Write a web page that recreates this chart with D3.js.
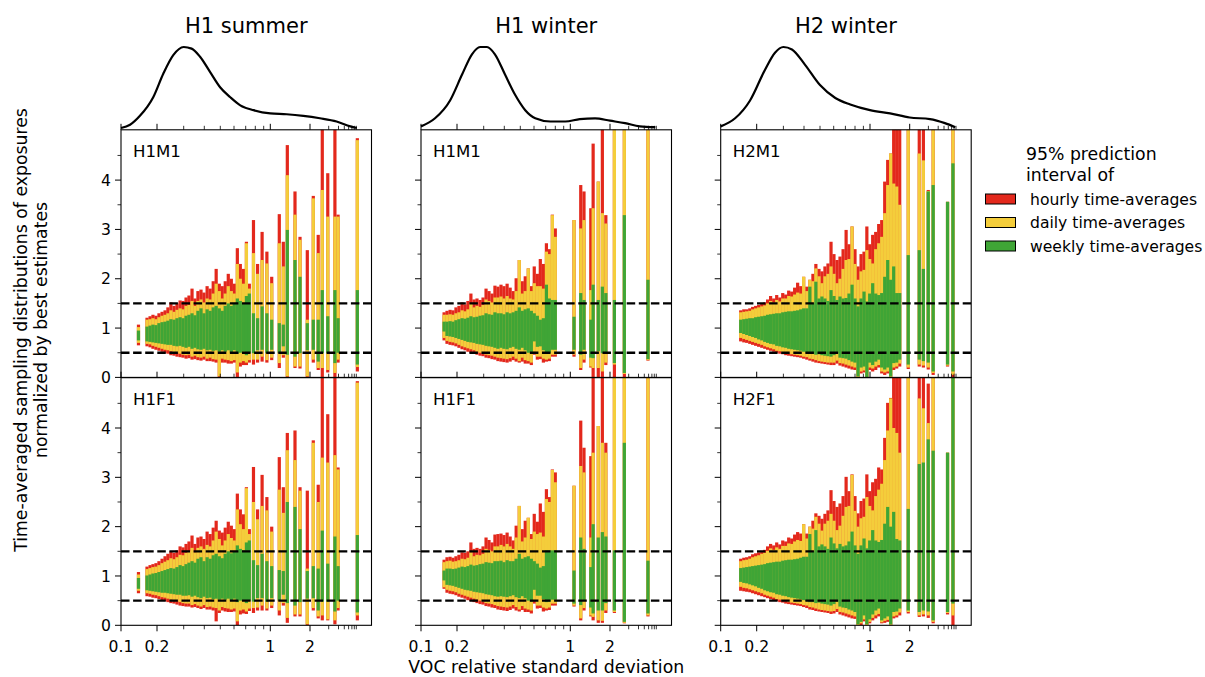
<!DOCTYPE html>
<html>
<head>
<meta charset="utf-8">
<script src="https://cdn.jsdelivr.net/npm/d3@7"></script>
<style>
  body { margin: 0; background: #fff; }
  svg { display: block; }
  text { font-family: "DejaVu Sans", sans-serif; fill: #000; }
</style>
</head>
<body>
<svg id="chart" width="1205" height="677"></svg>
<script>
// ---------------------------------------------------------------
// Data: VOC relative standard deviations (one entry per compound)
// and the 95% prediction intervals of the normalized time-averaged
// exposures. Each interval row is
//   [hourly hi, daily hi, weekly hi, weekly lo, daily lo, hourly lo]
// ---------------------------------------------------------------
const seasons = ["H1 summer", "H1 winter", "H2 winter"];
const panelLabels = [["H1M1", "H1F1"], ["H1M1", "H1F1"], ["H2M1", "H2F1"]];
const seriesNames = ["hourly time-averages", "daily time-averages", "weekly time-averages"];
const legendTitle = ["95% prediction", "interval of"];
const xLabel = "VOC relative standard deviation";
const yLabel = ["Time-averaged sampling distributions of exposures", "normalized by best estimates"];
const xMajorTicks = [0.1, 0.2, 1, 2];
const xMinorTicks = [0.3, 0.4, 0.5, 0.6, 0.7, 0.8, 0.9, 3, 4, 5, 6, 7, 8, 9];
const yMajorTicks = [0, 1, 2, 3, 4];
const yMinorTicks = [0.5, 1.5, 2.5, 3.5, 4.5];
const refLines = [0.5, 1.5];

// H1 summer
const rsdH1Summer = [0.14,
  0.165,0.175,0.185,0.196,0.206,0.216,0.226,0.236,0.247,0.259,0.271,0.284,0.297,0.310,0.323,0.337,0.351,0.366,
  0.382,0.398,0.416,0.434,0.453,0.472,0.493,0.513,0.534,0.556,0.579,0.602,0.627,0.652,0.679,0.707,0.736,
  0.78,0.826,0.88,0.947,1.025,1.17,1.255,1.346,1.539,1.68,1.908,2.148,2.39,2.61,2.94,3.6,3.95,9.6];
const h1SummerM1 = [
  [1.07,1.02,0.95,0.75,0.7,0.65],
  [1.21,1.17,1.03,0.73,0.68,0.63],[1.24,1.18,1.05,0.72,0.67,0.61],[1.27,1.2,1.07,0.71,0.64,0.58],
  [1.25,1.18,1.06,0.7,0.62,0.56],[1.3,1.22,1.1,0.69,0.6,0.54],[1.33,1.25,1.12,0.68,0.58,0.52],
  [1.36,1.27,1.13,0.67,0.56,0.5],[1.42,1.3,1.15,0.66,0.55,0.48],[1.52,1.36,1.18,0.66,0.53,0.45],
  [1.45,1.33,1.17,0.64,0.5,0.44],[1.5,1.37,1.2,0.63,0.5,0.42],[1.56,1.4,1.22,0.64,0.48,0.41],
  [1.55,1.38,1.2,0.62,0.46,0.4],[1.62,1.45,1.25,0.6,0.45,0.38],[1.66,1.47,1.27,0.62,0.46,0.39],
  [1.8,1.55,1.3,0.58,0.42,0.36],[1.6,1.45,1.26,0.6,0.44,0.37],[1.75,1.55,1.35,0.57,0.41,0.35],
  [1.78,1.58,1.4,0.56,0.4,0.34],[1.72,1.52,1.3,0.58,0.42,0.36],[1.85,1.6,1.38,0.55,0.38,0.33],
  [1.8,1.58,1.35,0.56,0.4,0.33],[1.95,1.7,1.42,0.54,0.37,0.32],[2.2,1.9,1.45,0.55,0.36,0.3],
  [1.9,1.75,1.4,0.52,0.02,0],[1.85,1.6,1.35,0.55,0.38,0.3],[1.95,1.7,1.45,0.52,0.36,0.3],
  [2.1,1.85,1.5,0.55,0.35,0.28],[2.0,1.75,1.45,0.5,0.33,0.28],[1.9,1.7,1.5,0.55,0.35,0.3],
  [2.62,2.3,1.6,0.48,0.1,0],[2.3,2.0,1.55,0.5,0.3,0.22],[2.2,1.9,1.5,0.52,0.33,0.25],
  [2.75,2.72,1.65,0.45,0.3,0.25],[1.9,1.8,1.7,0.5,0.35,0.3],
  [3.19,2.52,1.3,0.49,0.36,0.26],[2.3,2.1,1.2,0.55,0.36,0.3],[2.95,2.38,1.44,0.56,0.42,0.32],
  [2.55,2.31,1.3,0.49,0.35,0.3],[2.04,1.91,1.17,0.56,0.4,0.35],[3.31,2.72,1.1,0.49,0.29,0.19],
  [2.75,2.25,1.07,0.63,0.45,0.4],[4.71,4.1,2.99,0.46,0.02,0],[3.77,3.3,2.38,0.42,0.22,0.19],
  [2.85,2.79,2.04,0.49,0.22,0.18],[2.58,1.17,1.1,0.55,0.02,0],[3.68,3.63,1.17,0.56,0.36,0.3],
  [2.89,2.52,1.17,0.32,0.19,0.15],[5.5,3.8,1.77,0.49,0.19,0],[4.14,3.26,1.24,0.49,0.15,0.1],
  [5.5,3.26,1.77,0.29,0.09,0],[3.3,3.26,1.2,0.5,0.36,0.3],[4.85,4.81,1.77,0.26,0.21,0.12]];
const h1SummerF1 = [
  [1.08,1.03,0.96,0.74,0.7,0.65],
  [1.19,1.14,1.01,0.71,0.65,0.59],[1.22,1.16,1.03,0.7,0.64,0.58],[1.24,1.18,1.05,0.69,0.62,0.56],
  [1.26,1.19,1.06,0.68,0.61,0.55],[1.3,1.22,1.08,0.67,0.59,0.53],[1.35,1.26,1.1,0.66,0.57,0.5],
  [1.4,1.29,1.12,0.66,0.56,0.49],[1.45,1.32,1.14,0.65,0.54,0.47],[1.5,1.36,1.16,0.64,0.52,0.45],
  [1.47,1.34,1.15,0.63,0.5,0.44],[1.52,1.38,1.18,0.62,0.49,0.42],[1.6,1.43,1.22,0.62,0.47,0.4],
  [1.58,1.42,1.2,0.6,0.45,0.39],[1.65,1.47,1.24,0.6,0.44,0.38],[1.7,1.5,1.27,0.61,0.44,0.38],
  [1.82,1.57,1.3,0.58,0.41,0.36],[1.65,1.48,1.27,0.6,0.43,0.37],[1.78,1.57,1.35,0.57,0.4,0.35],
  [1.8,1.6,1.38,0.55,0.38,0.33],[1.75,1.55,1.3,0.58,0.41,0.35],[1.9,1.63,1.38,0.55,0.37,0.32],
  [1.85,1.6,1.35,0.56,0.38,0.32],[1.98,1.72,1.42,0.53,0.36,0.3],[2.12,1.9,1.45,0.54,0.35,0.08],
  [1.92,1.75,1.4,0.52,0.3,0.25],[1.88,1.62,1.36,0.54,0.37,0.3],[1.98,1.72,1.45,0.52,0.35,0.28],
  [2.1,1.85,1.5,0.54,0.34,0.27],[2.02,1.77,1.46,0.5,0.32,0.27],[1.95,1.72,1.5,0.54,0.34,0.28],
  [2.67,2.35,1.62,0.47,0.08,0],[2.35,2.05,1.55,0.5,0.3,0.22],[2.25,1.95,1.52,0.5,0.32,0.24],
  [2.8,2.78,1.68,0.45,0.28,0.23],[1.95,1.85,1.72,0.5,0.34,0.29],
  [3.21,2.5,1.32,0.48,0.35,0.25],[2.35,2.15,1.22,0.55,0.36,0.3],[3.05,2.42,1.45,0.55,0.4,0.3],
  [2.6,2.33,1.3,0.48,0.34,0.3],[2.0,1.9,1.2,0.55,0.4,0.35],[3.41,2.75,1.12,0.5,0.3,0.2],
  [2.8,2.28,1.1,0.62,0.45,0.4],[3.9,3.55,2.5,0.45,0.15,0.05],[3.95,3.35,2.4,0.4,0.22,0.18],
  [2.8,2.73,1.95,0.47,0.22,0.18],[2.73,1.15,1.1,0.54,0.02,0],[3.75,3.7,1.2,0.55,0.35,0.3],
  [2.85,2.5,1.15,0.3,0.18,0.14],[5.5,3.4,1.92,0.48,0.2,0.1],[4.28,3.3,1.25,0.48,0.12,0.1],
  [5.5,3.45,1.8,0.28,0.1,0.02],[3.2,3.16,1.2,0.5,0.35,0.3],[4.95,4.92,1.83,0.26,0.2,0.1]];

// H1 winter
const rsdH1Winter = [
  0.156,0.165,0.175,0.185,0.196,0.206,0.216,0.226,0.236,0.247,0.259,0.271,0.284,0.297,0.310,0.323,0.337,0.351,0.366,
  0.382,0.398,0.416,0.434,0.453,0.472,0.493,0.513,0.534,0.556,0.579,0.602,0.627,0.652,0.679,0.707,0.736,0.768,0.8,
  1.067,1.2,1.27,1.43,1.49,1.63,1.75,1.86,2.2,2.73,5.84];
const h1WinterM1 = [
  [1.32,1.27,1.13,0.93,0.8,0.75],[1.35,1.27,1.13,0.84,0.74,0.68],[1.37,1.28,1.14,0.83,0.72,0.66],
  [1.36,1.27,1.13,0.82,0.71,0.65],[1.42,1.3,1.16,0.8,0.69,0.63],[1.45,1.32,1.18,0.78,0.66,0.6],
  [1.52,1.36,1.2,0.76,0.63,0.57],[1.48,1.34,1.19,0.74,0.61,0.55],[1.55,1.38,1.21,0.72,0.59,0.52],
  [1.7,1.5,1.24,0.71,0.57,0.5],[1.58,1.42,1.22,0.7,0.55,0.48],[1.6,1.45,1.23,0.68,0.52,0.46],
  [1.57,1.43,1.25,0.67,0.5,0.44],[1.62,1.47,1.26,0.66,0.49,0.43],[1.8,1.58,1.3,0.64,0.46,0.4],
  [1.75,1.55,1.28,0.63,0.45,0.39],[1.7,1.52,1.27,0.62,0.44,0.37],[1.86,1.62,1.32,0.6,0.42,0.36],
  [1.84,1.62,1.3,0.58,0.4,0.33],[1.88,1.64,1.3,0.6,0.39,0.32],[1.85,1.6,1.28,0.58,0.38,0.31],
  [1.9,1.65,1.32,0.57,0.37,0.3],[1.82,1.6,1.3,0.6,0.39,0.32],[1.75,1.58,1.32,0.62,0.42,0.35],
  [2.01,1.75,1.35,0.58,0.38,0.32],[2.38,2.38,1.42,0.56,0.33,0.3],[1.95,1.7,1.35,0.6,0.4,0.32],
  [2.05,1.75,1.38,0.55,0.35,0.28],[2.21,2.21,1.4,0.5,0.33,0.28],[1.85,1.75,1.35,0.49,0.3,0.25],
  [2.25,1.91,1.3,0.73,0.52,0.46],[2.1,1.85,1.25,0.62,0.42,0.36],[2.4,1.85,1.17,0.63,0.42,0.37],
  [2.3,1.8,1.2,0.55,0.38,0.3],[2.72,2.55,1.88,0.49,0.36,0.32],[2.6,2.5,1.6,0.5,0.38,0.33],
  [3.3,3.29,1.57,0.56,0.46,0.42],[3.02,2.85,1.57,0.56,0.46,0.42],
  [3.19,3.19,1.23,0.56,0.46,0.42],[3.9,3.02,1.71,0.46,0.19,0.15],[3.77,3.19,1.57,0.56,0.36,0.3],
  [3.43,1.77,1.17,0.4,0.22,0.2],[4.74,3.43,1.88,0.39,0.19,0],[3.97,3.97,1.57,0.53,0.19,0],
  [5.2,3.33,1.84,0.49,0.12,0],[3.29,3.12,1.71,0.5,0.3,0.25],[5.2,5.2,1.57,0.29,0.26,0],
  [5.2,5.2,3.29,0.09,0.07,0],[5.2,5.2,1.98,0.37,0.35,0.34]];
const h1WinterF1 = [
  [1.33,1.28,1.11,0.91,0.77,0.74],[1.38,1.3,1.15,0.82,0.72,0.66],[1.39,1.31,1.15,0.81,0.7,0.64],
  [1.37,1.29,1.14,0.8,0.69,0.63],[1.4,1.3,1.15,0.78,0.67,0.61],[1.43,1.32,1.17,0.76,0.64,0.58],
  [1.48,1.35,1.19,0.74,0.62,0.56],[1.47,1.34,1.18,0.72,0.6,0.54],[1.5,1.37,1.2,0.71,0.58,0.51],
  [1.68,1.48,1.23,0.7,0.56,0.49],[1.55,1.4,1.21,0.68,0.54,0.47],[1.57,1.43,1.22,0.67,0.52,0.45],
  [1.55,1.42,1.24,0.66,0.5,0.43],[1.6,1.45,1.25,0.65,0.48,0.42],[1.78,1.55,1.28,0.63,0.45,0.39],
  [1.73,1.53,1.27,0.62,0.44,0.38],[1.68,1.5,1.26,0.61,0.43,0.36],[1.84,1.6,1.3,0.59,0.41,0.35],
  [1.85,1.6,1.3,0.58,0.39,0.32],[1.86,1.63,1.31,0.59,0.38,0.31],[1.83,1.6,1.28,0.58,0.37,0.3],
  [1.88,1.65,1.32,0.57,0.36,0.29],[1.8,1.6,1.3,0.59,0.38,0.31],[1.72,1.55,1.3,0.61,0.41,0.34],
  [2.02,1.78,1.35,0.57,0.37,0.3],[2.42,2.42,1.45,0.55,0.32,0.28],[1.95,1.7,1.35,0.59,0.39,0.31],
  [2.12,1.78,1.38,0.55,0.34,0.27],[2.18,2.18,1.4,0.5,0.32,0.27],[1.85,1.75,1.35,0.48,0.3,0.24],
  [2.26,1.9,1.3,0.72,0.5,0.44],[2.1,1.85,1.25,0.6,0.4,0.34],[2.47,1.88,1.17,0.6,0.4,0.35],
  [2.3,1.8,1.2,0.53,0.36,0.28],[2.76,2.56,1.52,0.47,0.34,0.3],[2.6,2.5,1.52,0.48,0.36,0.31],
  [3.16,3.15,1.52,0.52,0.44,0.4],[3.1,2.9,1.52,0.52,0.44,0.4],
  [2.83,2.83,1.11,0.44,0.4,0.38],[4.15,3.23,1.78,0.41,0.14,0.1],[3.6,3.1,1.55,0.5,0.35,0.3],
  [3.43,1.78,1.18,0.36,0.2,0.18],[5.2,3.5,2.05,0.24,0.17,0.1],[4.04,4.04,1.78,0.3,0.1,0.05],
  [5.2,3.7,1.89,0.3,0.09,0.05],[3.7,3.5,1.8,0.45,0.3,0.25],[5.2,5.2,1.52,0.3,0.27,0.25],
  [5.2,5.2,3.7,0.07,0.05,0.04],[5.2,5.2,1.31,0.24,0.2,0.18]];

// H2 winter
const rsdH2Winter = [0.147,
  0.156,0.165,0.175,0.185,0.196,0.206,0.216,0.226,0.236,0.247,0.259,0.271,0.284,0.297,0.310,0.323,0.337,0.351,0.366,
  0.382,0.398,0.416,0.434,0.453,0.472,0.493,0.513,0.534,0.556,0.579,0.602,0.627,0.652,0.679,0.707,0.736,0.768,0.8,
  0.835,0.871,0.909,0.951,0.995,1.048,1.105,1.164,1.227,1.293,1.362,1.435,1.512,1.594,1.68,
  1.95,2.46,2.69,2.99,3.45,5.81,7.55];
const h2WinterM1 = [
  [1.36,1.32,1.17,0.9,0.8,0.73],[1.38,1.33,1.18,0.88,0.78,0.71],[1.38,1.34,1.19,0.86,0.76,0.7],
  [1.4,1.35,1.2,0.84,0.74,0.68],[1.43,1.38,1.2,0.82,0.72,0.66],[1.45,1.4,1.22,0.8,0.7,0.64],
  [1.47,1.42,1.23,0.77,0.68,0.62],[1.5,1.44,1.24,0.75,0.66,0.6],[1.52,1.46,1.25,0.72,0.63,0.58],
  [1.58,1.5,1.27,0.7,0.61,0.56],[1.65,1.55,1.28,0.68,0.59,0.54],[1.6,1.52,1.29,0.67,0.57,0.52],
  [1.67,1.57,1.3,0.64,0.54,0.5],[1.62,1.54,1.3,0.63,0.53,0.48],[1.71,1.6,1.32,0.61,0.51,0.47],
  [1.68,1.6,1.33,0.6,0.5,0.45],[1.76,1.65,1.34,0.58,0.48,0.44],[1.74,1.64,1.34,0.57,0.47,0.43],
  [1.82,1.68,1.35,0.56,0.46,0.42],[1.92,1.72,1.36,0.55,0.45,0.41],[1.85,1.7,1.38,0.54,0.44,0.4],
  [2.04,2.04,1.4,0.52,0.42,0.38],[1.84,1.75,1.4,0.5,0.41,0.36],[1.98,1.98,1.84,0.49,0.38,0.34],
  [2.1,1.95,1.5,0.48,0.37,0.32],[2.3,2.21,1.94,0.46,0.35,0.3],[2.2,2.05,1.6,0.47,0.33,0.29],
  [2.15,1.91,1.64,0.45,0.32,0.28],[2.25,2.05,1.6,0.44,0.31,0.27],[2.31,2.1,1.55,0.43,0.3,0.26],
  [2.75,2.25,1.77,0.42,0.3,0.25],[2.5,2.1,1.65,0.45,0.3,0.25],[2.38,1.91,1.57,0.49,0.34,0.28],
  [2.45,2.0,1.64,0.4,0.29,0.24],[2.6,2.2,1.6,0.39,0.28,0.22],[2.99,2.38,1.61,0.38,0.26,0.2],
  [2.7,2.4,1.7,0.35,0.24,0.18],[3.06,3.06,1.88,0.32,0.22,0.16],[2.6,2.3,1.6,0.3,0.2,0.15],
  [2.25,1.98,1.44,0.02,0,0],[2.5,2.15,1.6,0.2,0.12,0.08],[2.55,2.18,1.74,0.22,0.14,0.1],
  [3.06,2.58,1.54,0,0,0],[2.7,2.4,1.7,0.3,0.2,0.15],[2.89,2.31,1.91,0.25,0.18,0.12],
  [2.95,2.6,1.7,0.32,0.22,0.15],[3.11,2.72,1.67,0.36,0.25,0.2],[3.19,2.85,1.71,0.2,0.12,0.08],
  [3.97,3.33,2.04,0.16,0.1,0.05],[4.41,3.9,2.38,0.2,0.12,0.08],[4.54,4.54,1.98,0.02,0,0],
  [5.3,3.93,2.25,0.29,0.2,0.15],[5.3,3.87,1.71,0.3,0.22,0.18],[5.3,3.5,1.71,0.36,0.28,0.22],
  [5.3,5.3,2.48,0.26,0.2,0.17],[5.3,4.54,2.58,0.36,0.26,0.22],[5.3,4.4,2.2,0.33,0.24,0.2],
  [3.8,3.78,3.77,0.3,0.2,0.16],[5.3,5.3,3.9,0.12,0.09,0.05],[3.56,3.56,3.56,0.26,0.24,0.22],
  [5.3,5.3,4.34,0.12,0.05,0]];
const h2WinterF1 = [
  [1.35,1.3,1.16,0.88,0.78,0.7],[1.37,1.32,1.17,0.86,0.76,0.69],[1.38,1.33,1.18,0.85,0.75,0.68],
  [1.4,1.35,1.19,0.83,0.73,0.67],[1.44,1.38,1.2,0.81,0.71,0.65],[1.46,1.4,1.21,0.79,0.69,0.63],
  [1.48,1.42,1.22,0.76,0.67,0.61],[1.51,1.45,1.23,0.74,0.65,0.59],[1.53,1.47,1.24,0.71,0.62,0.57],
  [1.6,1.51,1.26,0.69,0.6,0.55],[1.65,1.56,1.27,0.67,0.58,0.53],[1.62,1.53,1.28,0.66,0.56,0.51],
  [1.68,1.58,1.29,0.63,0.53,0.49],[1.64,1.55,1.29,0.62,0.52,0.47],[1.72,1.61,1.31,0.6,0.5,0.46],
  [1.7,1.61,1.32,0.59,0.49,0.44],[1.78,1.66,1.33,0.57,0.47,0.43],[1.76,1.65,1.33,0.56,0.46,0.42],
  [1.84,1.7,1.34,0.55,0.45,0.41],[1.89,1.73,1.35,0.54,0.44,0.4],[1.86,1.71,1.37,0.53,0.43,0.39],
  [2.05,2.05,1.39,0.51,0.41,0.37],[1.86,1.76,1.39,0.49,0.4,0.35],[2.0,2.0,1.85,0.47,0.37,0.32],
  [2.12,1.96,1.5,0.47,0.36,0.31],[2.27,2.2,1.93,0.45,0.34,0.29],[2.22,2.06,1.6,0.46,0.32,0.28],
  [2.16,1.92,1.64,0.44,0.31,0.27],[2.26,2.06,1.6,0.43,0.3,0.26],[2.33,2.12,1.55,0.42,0.29,0.25],
  [2.74,2.26,1.78,0.4,0.28,0.23],[2.52,2.12,1.66,0.43,0.29,0.24],[2.4,1.93,1.56,0.48,0.33,0.27],
  [2.47,2.02,1.65,0.38,0.27,0.22],[2.62,2.22,1.6,0.36,0.26,0.2],[3.01,2.4,1.62,0.35,0.24,0.18],
  [2.72,2.42,1.7,0.32,0.22,0.16],[3.06,3.05,1.9,0.3,0.2,0.14],[2.62,2.32,1.62,0.27,0.18,0.13],
  [2.27,2.0,1.45,0.02,0,0],[2.52,2.17,1.62,0.07,0.04,0],[2.57,2.2,1.76,0.2,0.12,0.08],
  [3.06,2.6,1.56,0.02,0,0],[2.72,2.42,1.72,0.12,0.07,0.04],[2.9,2.33,1.93,0.22,0.15,0.1],
  [2.97,2.62,1.72,0.3,0.2,0.14],[3.2,2.75,1.69,0.34,0.23,0.18],[3.16,2.87,1.73,0.1,0.06,0.04],
  [3.8,3.35,2.06,0.14,0.09,0.05],[4.51,3.95,2.4,0.18,0.11,0.07],[4.61,4.6,2.0,0.02,0,0],
  [5.3,4.0,2.3,0.27,0.18,0.14],[5.3,3.9,1.75,0.28,0.2,0.16],[5.3,3.5,1.72,0.34,0.26,0.2],
  [5.3,5.3,2.36,0.3,0.27,0.24],[5.3,4.6,3.27,0.27,0.2,0.17],[5.3,4.4,3.3,0.3,0.22,0.18],
  [4.9,4.1,3.77,0.28,0.2,0.15],[5.3,5.3,3.54,0.1,0.07,0.04],[3.5,3.5,3.5,0.27,0.25,0.22],
  [5.3,5.3,5.3,0.44,0.2,0]];

// Kernel density of the RSDs per season (peak-normalized)
const densRsdH1Summer = [0.1,0.119,0.144,0.186,0.22,0.256,0.3,0.335,0.377,0.434,0.5,0.571,0.652,0.781,1.0,1.33,1.78,2.48,3.78,6.5,9.3];
const densH1Summer    = [0,0.04,0.15,0.38,0.67,0.9,1.0,0.98,0.88,0.69,0.5,0.38,0.28,0.22,0.18,0.17,0.15,0.12,0.08,0.02,0];
const densRsdH1Winter = [0.1,0.131,0.175,0.216,0.251,0.284,0.314,0.351,0.404,0.465,0.534,0.61,0.747,0.923,1.18,1.54,2.0,2.77,4.21,8.5];
const densH1Winter    = [0.02,0.12,0.34,0.66,0.91,1.0,1.0,0.91,0.66,0.41,0.22,0.12,0.08,0.08,0.11,0.12,0.09,0.06,0.02,0.01];
const densRsdH2Winter = [0.1,0.132,0.176,0.227,0.264,0.3,0.338,0.406,0.5,0.613,0.749,1.0,1.42,2.0,3.14,5.2,8.6];
const densH2Winter    = [0.02,0.12,0.34,0.72,0.93,1.0,0.97,0.78,0.53,0.37,0.29,0.22,0.18,0.13,0.11,0.06,0.01];

// ---------------------------------------------------------------
// Layout and styling
// ---------------------------------------------------------------
const COLORS = ["#e3281c", "#f4cd3b", "#3fa536"];
const colLeft = [121, 421, 720.7];
const panelW = 250.5;
const rowTop = [129.8, 377.7];
const panelH = 247.6;
const densBase = 128, densPeak = 47;
const BAR_W = 3.2;
const FS_TICK = 15.6, FS_LABEL = 17.3, FS_TITLE = 21, FS_PANEL = 16.6, FS_LEGEND = 15.6;
const Y_LABEL_CENTER = 330;

// Axis warping: piecewise-log mapping between labelled RSD stops
const axisStops = [0.1,0.2,0.3,0.4,0.5,0.6,0.7,0.8,0.9,1,2,3,4,5,6,7,8,9,10,30];
const axisOffsets = [0,36,62.7,83.3,99.3,113,124.7,134.3,142.7,149.3,189,207.7,217.5,223.3,227.6,230.9,233.3,235.3,237,250.5];

const columns = [
  { rsd: rsdH1Summer, rows: [h1SummerM1, h1SummerF1], dx: densRsdH1Summer, dy: densH1Summer },
  { rsd: rsdH1Winter, rows: [h1WinterM1, h1WinterF1], dx: densRsdH1Winter, dy: densH1Winter },
  { rsd: rsdH2Winter, rows: [h2WinterM1, h2WinterF1], dx: densRsdH2Winter, dy: densH2Winter }
];

const svg = d3.select("#chart");
const defs = svg.append("defs");

columns.forEach((col, c) => {
  const x = d3.scaleLog()
    .domain(axisStops)
    .range(axisOffsets.map(o => colLeft[c] + o));

  // Density curve above the column
  const yd = d3.scaleLinear().domain([0, 1]).range([densBase, densPeak]);
  const dens = d3.zip(col.dx, col.dy);
  svg.append("path")
    .attr("d", d3.line().x(d => x(d[0])).y(d => yd(d[1])).curve(d3.curveMonotoneX)(dens))
    .attr("fill", "none").attr("stroke", "#000").attr("stroke-width", 2.2)
    .attr("stroke-linejoin", "round");

  svg.append("text")
    .attr("x", colLeft[c] + panelW / 2).attr("y", 33.3)
    .attr("text-anchor", "middle").attr("font-size", FS_TITLE)
    .text(seasons[c]);

  [0, 1].forEach(r => {
    const top = rowTop[r], bottom = top + panelH;
    const y = d3.scaleLinear().domain([0, 5.02]).range([bottom, top]);
    const clipId = `clip-${c}-${r}`;
    defs.append("clipPath").attr("id", clipId)
      .append("rect").attr("x", colLeft[c]).attr("y", top).attr("width", panelW).attr("height", panelH);

    const g = svg.append("g");
    const plot = g.append("g").attr("clip-path", `url(#${clipId})`);
    const rows = col.rows[r];
    const n = Math.min(rows.length, col.rsd.length);
    const bars = d3.range(n).map(i => ({ rsd: col.rsd[i], v: rows[i] }));

    // Three interval layers: hourly (widest), daily, weekly (narrowest)
    [[0, 5], [1, 4], [2, 3]].forEach(([hi, lo], k) => {
      plot.append("g").selectAll("rect").data(bars).join("rect")
        .attr("x", d => x(d.rsd) - BAR_W / 2)
        .attr("width", BAR_W)
        .attr("y", d => y(d.v[hi]))
        .attr("height", d => Math.max(0, y(d.v[lo]) - y(d.v[hi])))
        .attr("fill", COLORS[k]);
    });

    // Reference lines
    refLines.forEach(v => {
      plot.append("line")
        .attr("x1", colLeft[c]).attr("x2", colLeft[c] + panelW)
        .attr("y1", y(v)).attr("y2", y(v))
        .attr("stroke", "#000").attr("stroke-width", 2.3)
        .attr("stroke-dasharray", "8.5,3.6");
    });

    // Frame
    g.append("rect")
      .attr("x", colLeft[c]).attr("y", top).attr("width", panelW).attr("height", panelH)
      .attr("fill", "none").attr("stroke", "#000").attr("stroke-width", 1.1);

    // Panel label
    g.append("text")
      .attr("x", colLeft[c] + 12).attr("y", top + 27.3)
      .attr("font-size", FS_PANEL).text(panelLabels[c][r]);

    // Y ticks
    const yt = g.append("g");
    yMajorTicks.forEach(v => {
      yt.append("line").attr("x1", colLeft[c] - 6).attr("x2", colLeft[c])
        .attr("y1", y(v)).attr("y2", y(v)).attr("stroke", "#000").attr("stroke-width", 1);
      if (c === 0) {
        yt.append("text").attr("x", colLeft[c] - 10).attr("y", y(v))
          .attr("dy", "0.36em").attr("text-anchor", "end").attr("font-size", FS_TICK).text(v);
      }
    });
    yMinorTicks.forEach(v => {
      yt.append("line").attr("x1", colLeft[c] - 3.5).attr("x2", colLeft[c])
        .attr("y1", y(v)).attr("y2", y(v)).attr("stroke", "#000").attr("stroke-width", 0.8);
    });

    // X ticks along the top edge of each panel
    xMajorTicks.concat(xMinorTicks).forEach(v => {
      const len = xMajorTicks.includes(v) ? 6 : 4;
      g.append("line").attr("x1", x(v)).attr("x2", x(v))
        .attr("y1", top).attr("y2", top - len)
        .attr("stroke", "#000").attr("stroke-width", xMajorTicks.includes(v) ? 1 : 0.8);
    });

    // Bottom axis with labels on the lower panel
    if (r === 1) {
      xMajorTicks.concat(xMinorTicks).forEach(v => {
        const major = xMajorTicks.includes(v);
        g.append("line").attr("x1", x(v)).attr("x2", x(v))
          .attr("y1", bottom).attr("y2", bottom + (major ? 6 : 4))
          .attr("stroke", "#000").attr("stroke-width", major ? 1 : 0.8);
        if (major) {
          g.append("text").attr("x", x(v)).attr("y", bottom + 26.5)
            .attr("text-anchor", "middle").attr("font-size", FS_TICK).text(v);
        }
      });
    }
  });
});

// Axis labels
svg.append("text")
  .attr("x", colLeft[1] + panelW / 2).attr("y", 673)
  .attr("text-anchor", "middle").attr("font-size", FS_LABEL).text(xLabel);

yLabel.forEach((line, i) => {
  svg.append("text")
    .attr("transform", `translate(${27 + i * 19.5},${Y_LABEL_CENTER}) rotate(-90)`)
    .attr("text-anchor", "middle").attr("font-size", FS_LABEL).text(line);
});

// Legend
const legend = svg.append("g");
legendTitle.forEach((t, i) => {
  legend.append("text").attr("x", 1026).attr("y", 159.5 + i * 21)
    .attr("font-size", FS_LABEL).text(t);
});
seriesNames.forEach((name, i) => {
  const cy = 199 + i * 23.5;
  legend.append("rect").attr("x", 985.5).attr("y", cy - 5).attr("width", 30).attr("height", 10)
    .attr("fill", COLORS[i]).attr("stroke", "#000").attr("stroke-width", 1);
  legend.append("text").attr("x", 1030).attr("y", cy + 5.5)
    .attr("font-size", FS_LEGEND).text(name);
});
</script>
</body>
</html>
